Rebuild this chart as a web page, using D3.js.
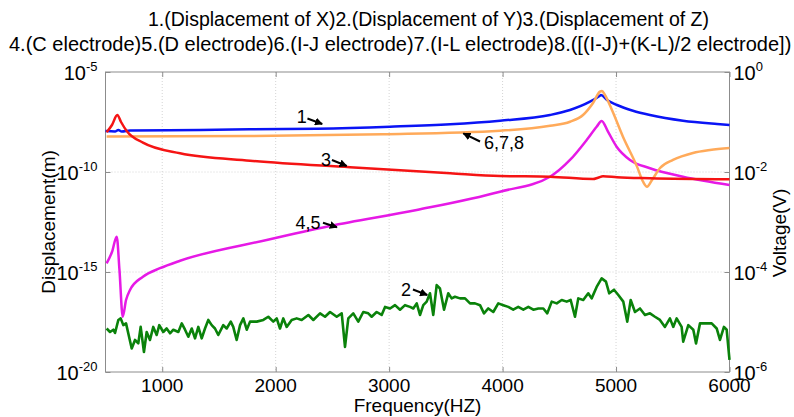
<!DOCTYPE html>
<html>
<head>
<meta charset="utf-8">
<script src="https://cdn.jsdelivr.net/npm/d3@7"></script>
<style>
  body { margin: 0; background: #fff; }
  text { font-family: "Liberation Sans", Arial, sans-serif; fill: #000; }
</style>
</head>
<body>
<div id="chart"></div>
<script>
// frequency axis ticks and log-axis ticks
const xTicks = [1000, 2000, 3000, 4000, 5000, 6000];
const leftTicks = [1e-5, 1e-10, 1e-15, 1e-20];
const rightTicks = [1e0, 1e-2, 1e-4, 1e-6];

// 1. displacement of X (m)
const blueF = [500, 584, 613, 643, 716, 1333, 1774, 2364, 3008, 3539, 3977, 4418, 4594, 4770, 4858, 4867, 4920, 5008, 5149, 5299, 5590, 5890, 6000];
const blueV = [1.12e-8, 1.06e-8, 1.26e-8, 1.06e-8, 1.19e-8, 1.26e-8, 1.36e-8, 1.46e-8, 1.84e-8, 2.43e-8, 3.67e-8, 7.08e-8, 1.26e-7, 3.27e-7, 6.53e-7, 7.08e-7, 3.98e-7, 2.24e-7, 1.16e-7, 7.08e-8, 3.67e-8, 2.51e-8, 2.24e-8];

// 3. displacement of Z (m)
const redF = [510, 557, 604, 637, 687, 830, 1157, 1774, 2655, 3539, 3977, 4418, 4797, 4841, 4885, 5008, 5299, 6000];
const redV = [9.66e-9, 2.24e-8, 7.08e-8, 3.16e-8, 1.12e-8, 2.92e-9, 8.61e-10, 3.67e-10, 1.72e-10, 8.61e-11, 6.31e-11, 5.82e-11, 4.47e-11, 5.19e-11, 6.1e-11, 5.43e-11, 4.84e-11, 4.32e-11];

// 2. displacement of Y (m)
const greenF = [510, 540, 569, 584, 613, 634, 657, 681, 731, 760, 789, 810, 839, 863, 892, 921, 951, 974, 1009, 1039, 1069, 1098, 1142, 1172, 1201, 1230, 1260, 1289, 1318, 1348, 1377, 1406, 1436, 1465, 1494, 1538, 1568, 1604, 1626, 1656, 1686, 1715, 1745, 1774, 1833, 1891, 1935, 1979, 2009, 2038, 2067, 2097, 2141, 2185, 2229, 2288, 2332, 2391, 2435, 2479, 2538, 2582, 2611, 2640, 2684, 2728, 2772, 2816, 2846, 2890, 2934, 2964, 3008, 3052, 3096, 3140, 3184, 3213, 3243, 3272, 3301, 3331, 3360, 3389, 3419, 3448, 3484, 3521, 3551, 3580, 3625, 3669, 3713, 3757, 3801, 3836, 3874, 3918, 3962, 4006, 4050, 4094, 4138, 4183, 4227, 4271, 4315, 4359, 4394, 4433, 4477, 4521, 4565, 4600, 4638, 4667, 4711, 4755, 4785, 4829, 4873, 4911, 4940, 4982, 5020, 5064, 5099, 5129, 5167, 5211, 5255, 5299, 5343, 5387, 5431, 5475, 5504, 5534, 5578, 5592, 5637, 5681, 5705, 5740, 5799, 5843, 5887, 5916, 5951, 5975, 6000];
const greenV = [1.5e-18, 1.0e-18, 1.3e-18, 8.9e-19, 4.0e-18, 4.8e-18, 2.2e-18, 2.7e-18, 1.5e-19, 4.0e-19, 2.7e-19, 1.8e-18, 1.0e-19, 1.0e-18, 4.0e-19, 1.8e-18, 7.1e-19, 2.2e-18, 1.0e-18, 1.5e-18, 8.6e-19, 1.3e-18, 1.0e-18, 2.7e-18, 1.3e-18, 5.8e-19, 1.5e-18, 4.8e-19, 1.8e-18, 4.8e-19, 1.5e-18, 4.0e-18, 2.2e-18, 1.5e-18, 7.1e-19, 2.2e-18, 1.5e-18, 3.3e-18, 1.8e-18, 4.0e-19, 2.2e-18, 4.8e-18, 1.3e-18, 3.3e-18, 3.3e-18, 4.0e-18, 5.8e-18, 3.3e-18, 4.8e-18, 1.5e-18, 4.8e-18, 1.8e-18, 4.0e-18, 4.8e-18, 4.0e-18, 7.1e-18, 4.0e-18, 8.6e-18, 5.8e-18, 1.0e-17, 5.8e-18, 8.6e-18, 1.8e-19, 4.8e-18, 8.6e-18, 3.3e-18, 1.0e-17, 8.6e-18, 5.8e-18, 1.0e-17, 7.1e-18, 1.8e-17, 1.5e-17, 2.2e-17, 1.3e-17, 2.2e-17, 1.8e-17, 1.5e-17, 2.7e-17, 7.1e-18, 2.2e-17, 3.3e-17, 8.6e-17, 7.1e-18, 2.2e-16, 1.5e-16, 1.3e-17, 8.6e-17, 4.8e-17, 5.8e-17, 4.8e-17, 4.8e-17, 2.7e-17, 2.7e-17, 2.2e-17, 8.6e-18, 1.5e-17, 1.0e-17, 2.7e-17, 2.2e-17, 1.8e-17, 1.3e-17, 1.8e-17, 1.3e-17, 1.8e-17, 1.3e-17, 1.5e-17, 1.5e-17, 8.6e-18, 3.3e-17, 2.7e-17, 4.0e-17, 3.3e-17, 4.0e-17, 5.8e-18, 4.8e-17, 4.0e-17, 8.6e-17, 4.8e-17, 1.8e-16, 4.8e-16, 3.3e-16, 8.6e-17, 1.3e-16, 7.1e-17, 3.3e-17, 3.3e-18, 4.0e-17, 1.0e-17, 1.5e-17, 7.1e-18, 8.6e-18, 5.8e-18, 4.0e-18, 1.8e-18, 4.8e-18, 1.8e-18, 4.8e-18, 1.8e-18, 3.3e-19, 2.2e-18, 1.3e-18, 2.7e-19, 2.7e-18, 2.7e-18, 2.7e-18, 1.5e-18, 4.0e-19, 1.8e-18, 1.3e-18, 4.0e-20];

// 4,5. C / D electrode voltage (V)
const magF = [510, 557, 599, 623, 652, 681, 716, 830, 980, 1157, 1921, 2479, 3243, 3977, 4418, 4594, 4741, 4829, 4873, 4929, 5005, 5123, 5299, 5590, 6000];
const magV = [1.49e-4, 2.51e-4, 5.08e-4, 1.1e-4, 1.28e-5, 2.75e-5, 4.37e-5, 8.05e-5, 1.19e-4, 1.68e-4, 4.37e-4, 8.32e-4, 1.74e-3, 4.04e-3, 8.05e-3, 1.74e-2, 4.37e-2, 8.05e-2, 0.105, 6.4e-2, 3.21e-2, 1.74e-2, 1.19e-2, 8.05e-3, 5.5e-3];

// 6,7,8. I-J / I-L / [(I-J)+(K-L)]/2 electrode voltage (V)
const orangeF = [510, 1774, 2946, 3977, 4418, 4594, 4709, 4797, 4858, 4876, 4902, 4964, 5061, 5185, 5238, 5273, 5317, 5388, 5502, 5678, 5828, 6000];
const orangeV = [5.13e-2, 5.25e-2, 5.68e-2, 6.7e-2, 8.43e-2, 0.101, 0.138, 0.24, 0.404, 0.417, 0.347, 0.174, 5.08e-2, 1.28e-2, 6.4e-3, 5.08e-3, 6.92e-3, 1.2e-2, 1.74e-2, 2.4e-2, 2.75e-2, 3.02e-2];

// curve labels, placed in (frequency, displacement) units
const noteText = ["1", "2", "3", "4,5", "6,7,8"];
const noteAt = [[2229, 5.4e-8], [3149, 1.26e-16], [2443, 3.98e-10], [2285, 2.92e-13], [4012, 2.82e-9]];
const noteTail = [[2280, 4.7e-8], [3210, 1.33e-16], [2496, 3.98e-10], [2417, 2.92e-13], [3801, 3.35e-9]];
const noteHead = [[2410, 2.5e-8], [3336, 7.08e-17], [2626, 2.0e-10], [2540, 1.72e-13], [3654, 8.61e-9]];

const width = 794, height = 417;
const margin = {top: 72, right: 64.5, bottom: 45, left: 105.5};
const x0 = margin.left, x1 = width - margin.right;
const y0 = margin.top, y1 = height - margin.bottom;

const svg = d3.select("#chart").append("svg")
    .attr("width", width)
    .attr("height", height);

const x = d3.scaleLinear().domain([500, 6000]).range([x0, x1]);
const yL = d3.scaleLog().domain([1e-20, 1e-5]).range([y1, y0]);
const yR = d3.scaleLog().domain([1e-6, 1]).range([y1, y0]);

// grid
svg.append("g").selectAll("line")
    .data(xTicks.slice(0, -1))
    .enter().append("line")
    .attr("x1", d => x(d)).attr("x2", d => x(d))
    .attr("y1", y0).attr("y2", y1)
    .attr("stroke", "#d4d4d4").attr("stroke-dasharray", "1,2");
svg.append("g").selectAll("line")
    .data([1e-10, 1e-15])
    .enter().append("line")
    .attr("x1", x0).attr("x2", x1)
    .attr("y1", d => yL(d)).attr("y2", d => yL(d))
    .attr("stroke", "#d4d4d4").attr("stroke-dasharray", "1,2");

// box + inward ticks
const axisColor = "#8c8c8c";
svg.append("rect")
    .attr("x", x0).attr("y", y0)
    .attr("width", x1 - x0).attr("height", y1 - y0)
    .attr("fill", "none").attr("stroke", axisColor);

svg.append("g").attr("transform", `translate(0,${y1})`)
    .call(d3.axisBottom(x).tickValues(xTicks).tickSize(-5).tickFormat(""))
    .call(g => g.select(".domain").remove())
    .call(g => g.selectAll("line").attr("stroke", axisColor));
svg.append("g").attr("transform", `translate(0,${y0})`)
    .call(d3.axisTop(x).tickValues(xTicks).tickSize(-5).tickFormat(""))
    .call(g => g.select(".domain").remove())
    .call(g => g.selectAll("line").attr("stroke", axisColor));
svg.append("g").attr("transform", `translate(${x0},0)`)
    .call(d3.axisLeft(yL).tickValues(leftTicks).tickSize(-5).tickFormat(""))
    .call(g => g.select(".domain").remove())
    .call(g => g.selectAll("line").attr("stroke", axisColor));
svg.append("g").attr("transform", `translate(${x1},0)`)
    .call(d3.axisRight(yR).tickValues(rightTicks).tickSize(-5).tickFormat(""))
    .call(g => g.select(".domain").remove())
    .call(g => g.selectAll("line").attr("stroke", axisColor));

// tick labels
svg.append("g").selectAll("text")
    .data(xTicks)
    .enter().append("text")
    .attr("x", d => x(d)).attr("y", y1 + 20)
    .attr("text-anchor", "middle")
    .style("font-size", "19px")
    .text(d => d);

function powLabel(sel, d) {
    sel.append("tspan").text("10");
    sel.append("tspan")
        .attr("dy", -9)
        .style("font-size", "13px")
        .text(Math.round(Math.log10(d)));
}
svg.append("g").selectAll("text")
    .data(leftTicks)
    .enter().append("text")
    .attr("x", x0 - 8).attr("y", d => yL(d) + 8)
    .attr("text-anchor", "end")
    .style("font-size", "20px")
    .each(function(d) { powLabel(d3.select(this), d); });
svg.append("g").selectAll("text")
    .data(rightTicks)
    .enter().append("text")
    .attr("x", x1 + 4).attr("y", d => yR(d) + 8)
    .attr("text-anchor", "start")
    .style("font-size", "20px")
    .each(function(d) { powLabel(d3.select(this), d); });

// axis titles
svg.append("text")
    .attr("x", (x0 + x1) / 2).attr("y", height - 5)
    .attr("text-anchor", "middle")
    .style("font-size", "19px")
    .text("Frequency(HZ)");
svg.append("text")
    .attr("transform", `translate(55,222) rotate(-90)`)
    .attr("text-anchor", "middle")
    .style("font-size", "19px")
    .text("Displacement(m)");
svg.append("text")
    .attr("transform", `translate(786,233) rotate(-90)`)
    .attr("text-anchor", "middle")
    .style("font-size", "19px")
    .text("Voltage(V)");

// chart title
svg.append("text")
    .attr("x", 148).attr("y", 26)
    .style("font-size", "19.5px")
    .text("1.(Displacement of X)2.(Displacement of Y)3.(Displacement of Z)");
svg.append("text")
    .attr("x", 9).attr("y", 51)
    .style("font-size", "20px")
    .text("4.(C electrode)5.(D electrode)6.(I-J electrode)7.(I-L electrode)8.([(I-J)+(K-L)/2 electrode])");

// series
const lineL = d3.line().x(d => x(d[0])).y(d => yL(d[1]));
const lineR = d3.line().x(d => x(d[0])).y(d => yR(d[1]));

const plot = svg.append("g");
plot.append("path")
    .datum(d3.zip(greenF, greenV))
    .attr("fill", "none").attr("stroke", "#0a820a").attr("stroke-width", 2.6)
    .attr("stroke-linejoin", "round")
    .attr("d", lineL);
plot.append("path")
    .datum(d3.zip(magF, magV))
    .attr("fill", "none").attr("stroke", "#e619e6").attr("stroke-width", 2.5)
    .attr("d", lineR.curve(d3.curveMonotoneX));
plot.append("path")
    .datum(d3.zip(blueF, blueV))
    .attr("fill", "none").attr("stroke", "#0a14f5").attr("stroke-width", 2.5)
    .attr("d", lineL.curve(d3.curveMonotoneX));
plot.append("path")
    .datum(d3.zip(orangeF, orangeV))
    .attr("fill", "none").attr("stroke", "#ffaa5a").attr("stroke-width", 2.5)
    .attr("d", lineR);
plot.append("path")
    .datum(d3.zip(redF, redV))
    .attr("fill", "none").attr("stroke", "#f51414").attr("stroke-width", 2.5)
    .attr("d", lineL);

// annotations
svg.append("defs").append("marker")
    .attr("id", "arrow")
    .attr("viewBox", "0 0 10 10")
    .attr("refX", 9).attr("refY", 5)
    .attr("markerWidth", 4).attr("markerHeight", 4)
    .attr("orient", "auto")
    .append("path").attr("d", "M0,0L10,5L0,10z").attr("fill", "#000");

noteText.forEach((t, i) => {
    svg.append("line")
        .attr("x1", x(noteTail[i][0])).attr("y1", yL(noteTail[i][1]))
        .attr("x2", x(noteHead[i][0])).attr("y2", yL(noteHead[i][1]))
        .attr("stroke", "#000").attr("stroke-width", 2)
        .attr("marker-end", "url(#arrow)");
    svg.append("text")
        .attr("x", x(noteAt[i][0])).attr("y", yL(noteAt[i][1]))
        .attr("text-anchor", "middle")
        .attr("dominant-baseline", "central")
        .style("font-size", "18px")
        .text(t);
});
</script>
</body>
</html>
